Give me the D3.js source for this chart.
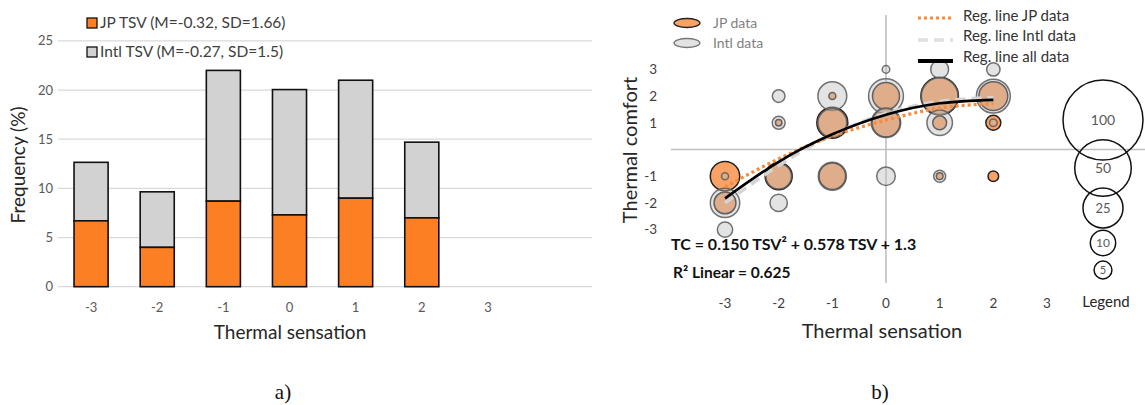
<!DOCTYPE html>
<html><head><meta charset="utf-8">
<script src="https://cdn.jsdelivr.net/npm/d3@7"></script>
<style>
body{margin:0;background:#fff;}
text{font-family:Lato,"Open Sans",sans-serif;}
</style></head>
<body><svg id="c" width="1145" height="405"></svg>
<script>
// ---------- data: chart a) ----------
const tsvCats = ["-3","-2","-1","0","1","2","3"];
const jpFreq   = [6.7, 4.0, 8.7, 7.3, 9.0, 7.0, 0];
const intlFreq = [5.95, 5.65, 13.3, 12.75, 12.0, 7.7, 0];
const freqTicks = [0,5,10,15,20,25];
const legendA = ["JP TSV (M=-0.32, SD=1.66)", "Intl TSV (M=-0.27, SD=1.5)"];

// ---------- data: chart b) ----------
const tsvTicks = [-3,-2,-1,0,1,2,3];
const tcTicks = [-3,-2,-1,1,2,3];
// [TSV, TC, size]
const jpBubbles = [
 [-3,-1,13.5],[-3,-2,7.5],[-2,1,0.65],[-2,-1,11.4],[-1,2,0.77],[-1,1,15],[-1,-1,11],
 [0,2,11.4],[0,1,12.25],[1,2,22],[1,1,3],[1,-1,0.7],[2,2,13],[2,1,3.5],[2,-1,1.75]
];
const intlBubbles = [
 [-3,-1,0.77],[-3,-2,13.5],[-3,-3,3.7],[-2,2,2.5],[-2,1,2.6],[-2,-1,10.2],[-2,-2,4.7],
 [-1,2,13],[-1,1,13],[-1,-1,12.25],[0,3,0.9],[0,2,19],[0,1,13.5],[0,-1,5.4],
 [1,3,5],[1,2,21],[1,1,10.2],[1,-1,2.25],[2,3,2.8],[2,2,18],[2,1,0.9]
];
const regX = [-3,-2,-1,0,1,2];
const regJP   = [-1.4,-0.35,0.5,1.1,1.55,1.72];
const regIntl = [-2.0,-0.6,0.55,1.35,1.8,1.95];
const regAll  = [-1.83,-0.46,0.57,1.3,1.73,1.86];
const sizeLegend = [100,50,25,10,5];
const eqText = "TC = 0.150 TSV² + 0.578 TSV + 1.3";
const r2Text = "R² Linear = 0.625";

const svg = d3.select("#c");
const ORANGE = "#fd7f24", GRAYBAR = "#d2d2d2";

// ================= chart a) =================
const xA = d3.scaleBand().domain(tsvCats).range([58,521]).paddingInner(0.485).paddingOuter(0.2425);
const yA = d3.scaleLinear().domain([0,25]).range([286.7,40.9]);
const gA = svg.append("g");
gA.selectAll("line.grid").data(freqTicks).join("line")
  .attr("x1",58).attr("x2",592).attr("y1",d=>yA(d)).attr("y2",d=>yA(d))
  .attr("stroke","#d9d9d9").attr("stroke-width",1.3);
gA.selectAll("text.yt").data(freqTicks).join("text")
  .attr("x",53).attr("y",d=>yA(d)).attr("dy","0.35em").attr("text-anchor","end")
  .attr("font-size",13).attr("fill","#595959").text(d=>d);
gA.selectAll("text.xt").data(tsvCats).join("text")
  .attr("x",d=>xA(d)+xA.bandwidth()/2).attr("y",307).attr("dy","0.35em").attr("text-anchor","middle")
  .attr("font-size",13).attr("fill","#595959").text(d=>d);
tsvCats.forEach((c,i)=>{
  if(jpFreq[i]+intlFreq[i]<=0) return;
  gA.append("rect").attr("x",xA(c)).attr("width",xA.bandwidth())
    .attr("y",yA(jpFreq[i]+intlFreq[i])).attr("height",yA(jpFreq[i])-yA(jpFreq[i]+intlFreq[i]))
    .attr("fill",GRAYBAR).attr("stroke","#111").attr("stroke-width",1.6);
  gA.append("rect").attr("x",xA(c)).attr("width",xA.bandwidth())
    .attr("y",yA(jpFreq[i])).attr("height",yA(0)-yA(jpFreq[i]))
    .attr("fill",ORANGE).attr("stroke","#111").attr("stroke-width",1.6);
});
gA.append("text").attr("transform","translate(25,165) rotate(-90)").attr("text-anchor","middle")
  .attr("font-size",19).attr("fill","#262626").text("Frequency (%)");
gA.append("text").attr("x",290).attr("y",339).attr("text-anchor","middle")
  .attr("font-size",19).attr("fill","#262626").text("Thermal sensation");
[[ORANGE,0],[GRAYBAR,1]].forEach(([col,i])=>{
  gA.append("rect").attr("x",87).attr("y",18+i*29).attr("width",10).attr("height",10)
    .attr("fill",col).attr("stroke","#111").attr("stroke-width",1.3);
  gA.append("text").attr("x",100).attr("y",28+i*29).attr("font-size",15.5).attr("fill","#404040").text(legendA[i]);
});
svg.append("text").attr("x",283).attr("y",399).attr("text-anchor","middle")
  .attr("font-family","'DejaVu Serif','Liberation Serif',serif").style("font-family","'Liberation Serif',serif")
  .attr("font-size",21).attr("fill","#111").text("a)");

// ================= chart b) =================
const xB = d3.scaleLinear().domain([-3,3]).range([725,1047]);
const yB = d3.scaleLinear().domain([-3,3]).range([229.6,69.4]);
const rB = d3.scaleSqrt().domain([0,100]).range([0,40]);
const gB = svg.append("g");
gB.append("line").attr("x1",671).attr("x2",1145).attr("y1",yB(0)).attr("y2",yB(0))
  .attr("stroke","#bfbfbf").attr("stroke-width",1.6);
gB.append("line").attr("x1",xB(0)).attr("x2",xB(0)).attr("y1",15).attr("y2",283)
  .attr("stroke","#bfbfbf").attr("stroke-width",1.6);
gB.selectAll("text.xt").data(tsvTicks).join("text")
  .attr("x",d=>xB(d)).attr("y",303).attr("dy","0.35em").attr("text-anchor","middle")
  .attr("font-size",13.5).attr("fill","#404040").text(d=>d);
gB.selectAll("text.yt").data(tcTicks).join("text")
  .attr("x",657).attr("y",d=>yB(d)).attr("dy","0.35em").attr("text-anchor","end")
  .attr("font-size",13.5).attr("fill","#404040").text(d=>d);

// bubbles
gB.selectAll("circle.jp").data(jpBubbles).join("circle")
  .attr("cx",d=>xB(d[0])).attr("cy",d=>yB(d[1])).attr("r",d=>rB(d[2]))
  .attr("fill","#f9a266").attr("stroke","#222").attr("stroke-width",1.5);
gB.selectAll("circle.intl").data(intlBubbles).join("circle")
  .attr("cx",d=>xB(d[0])).attr("cy",d=>yB(d[1])).attr("r",d=>rB(d[2]))
  .attr("fill","#bcbcbc").attr("fill-opacity",0.42)
  .attr("stroke","#5a5a5a").attr("stroke-opacity",0.85).attr("stroke-width",1.5);

// regression curves
const line = d3.line().x((d,i)=>xB(regX[i])).y(d=>yB(d)).curve(d3.curveNatural);
gB.append("path").attr("d",line(regIntl)).attr("fill","none").attr("stroke","#d4d4d4")
  .attr("stroke-width",3.5).attr("stroke-dasharray","10,6");
gB.append("path").attr("d",line(regJP)).attr("fill","none").attr("stroke","#f88a3c")
  .attr("stroke-width",3.2).attr("stroke-dasharray","3,3");
gB.append("path").attr("d",line(regAll)).attr("fill","none").attr("stroke","#000")
  .attr("stroke-width",2.6);

// equation
gB.append("text").attr("x",671).attr("y",250).attr("font-size",16).attr("font-weight","bold")
  .attr("fill","#111").text(eqText);
gB.append("text").attr("x",673).attr("y",278).attr("font-size",15.5).attr("font-weight","bold")
  .attr("fill","#111").text(r2Text);

// size legend
gB.selectAll("circle.sz").data(sizeLegend).join("circle")
  .attr("cx",1103).attr("cy",(d,i)=>[120,168,208,243,270][i]).attr("r",d=>rB(d))
  .attr("fill","none").attr("stroke","#111").attr("stroke-width",1.5);
gB.selectAll("text.sz").data(sizeLegend).join("text")
  .attr("x",1103).attr("y",(d,i)=>[120,168,208,243,270][i]).attr("dy","0.35em").attr("text-anchor","middle")
  .attr("font-size",(d,i)=>[14,14,13,12,11][i]).attr("fill","#595959").text(d=>d);
gB.append("text").attr("x",1106).attr("y",302).attr("dy","0.35em").attr("text-anchor","middle")
  .attr("font-size",15).attr("fill","#262626").text("Legend");

// axis titles
gB.append("text").attr("transform","translate(637,150) rotate(-90)").attr("text-anchor","middle")
  .attr("font-size",20).attr("fill","#262626").text("Thermal comfort");
gB.append("text").attr("x",882).attr("y",338).attr("text-anchor","middle")
  .attr("font-size",20).attr("fill","#262626").text("Thermal sensation");

// data legend
gB.append("ellipse").attr("cx",687).attr("cy",23).attr("rx",13).attr("ry",4.5)
  .attr("fill","#f9a266").attr("stroke","#222").attr("stroke-width",1.3);
gB.append("ellipse").attr("cx",687).attr("cy",43).attr("rx",13).attr("ry",4.5)
  .attr("fill","#e3e3e3").attr("stroke","#777").attr("stroke-width",1.3);
gB.append("text").attr("x",713).attr("y",23).attr("dy","0.35em").attr("font-size",14).attr("fill","#7f7f7f").text("JP data");
gB.append("text").attr("x",713).attr("y",43).attr("dy","0.35em").attr("font-size",14).attr("fill","#7f7f7f").text("Intl data");
// regression legend
gB.append("line").attr("x1",918).attr("x2",953).attr("y1",18).attr("y2",18)
  .attr("stroke","#f88a3c").attr("stroke-width",3.2).attr("stroke-dasharray","3,3");
gB.append("line").attr("x1",918).attr("x2",953).attr("y1",40).attr("y2",40)
  .attr("stroke","#e0e0e0").attr("stroke-width",3.5).attr("stroke-dasharray","10,6");
gB.append("line").attr("x1",918).attr("x2",953).attr("y1",61).attr("y2",61)
  .attr("stroke","#000").attr("stroke-width",4);
["Reg. line JP data","Reg. line Intl data","Reg. line all data"].forEach((t,i)=>{
  gB.append("text").attr("x",963).attr("y",[16,36,57][i]).attr("dy","0.35em")
    .attr("font-size",15).attr("fill","#333").text(t);
});
svg.append("text").attr("x",880).attr("y",399).attr("text-anchor","middle")
  .style("font-family","'Liberation Serif',serif")
  .attr("font-size",21).attr("fill","#111").text("b)");
</script></body></html>
